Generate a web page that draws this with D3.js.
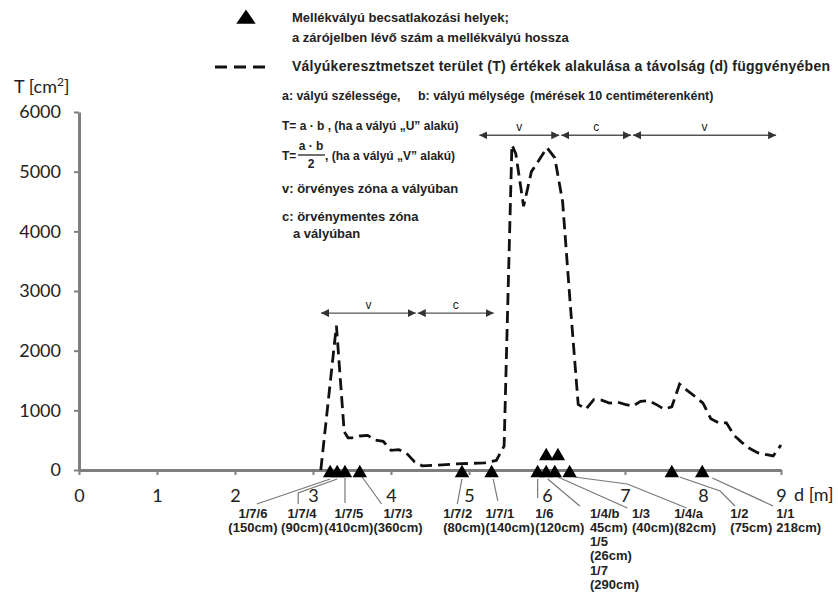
<!DOCTYPE html>
<html>
<head>
<meta charset="utf-8">
<script src="https://cdn.jsdelivr.net/npm/d3@7"></script>
<style>
body { margin: 0; background: #fff; }
svg { display: block; }
text { font-family: "Liberation Sans", Arial, sans-serif; fill: #222; }
.tick text { font-family: Lato, "Open Sans", sans-serif; }
</style>
</head>
<body>
<svg id="chart" width="838" height="594"></svg>
<script>
// cross-section area T [cm2] along the trough, d [m]
var distances = [3.1, 3.3, 3.4, 3.45, 3.5, 3.6, 3.7, 3.8, 3.9, 4.0, 4.1, 4.2, 4.3, 4.4, 4.6, 4.8, 5.0, 5.2, 5.35, 5.45,
    5.55, 5.6, 5.7, 5.8, 5.9, 6.0, 6.1, 6.2, 6.3, 6.4, 6.5, 6.6, 6.7, 6.8, 6.9, 7.0, 7.1, 7.2, 7.3, 7.4,
    7.5, 7.6, 7.7, 7.8, 7.9, 8.0, 8.1, 8.2, 8.3, 8.4, 8.5, 8.6, 8.7, 8.8, 8.9, 9.0];
var areas = [0, 2420, 640, 540, 540, 570, 580, 500, 480, 330, 340, 280, 140, 70, 80, 100, 110, 120, 160, 400,
    5450, 5300, 4420, 5000, 5200, 5400, 5230, 4500, 2750, 1100, 1020, 1180, 1170, 1120, 1140, 1100, 1070, 1150, 1160, 1100,
    1020, 1060, 1440, 1330, 1230, 1120, 860, 790, 790, 580, 460, 360, 290, 260, 235, 420];

var xTicks = [0, 1, 2, 3, 4, 5, 6, 7, 8, 9];
var yTicks = [0, 1000, 2000, 3000, 4000, 5000, 6000];

// side-trough inlets: position and stacking level
var inletD = [3.22, 3.31, 3.41, 3.60, 4.91, 5.29, 5.88, 5.99, 6.10, 6.29, 7.60, 7.99, 5.99, 6.14];
var inletLevel = [0, 0, 0, 0, 0, 0, 0, 0, 0, 0, 0, 0, 1, 1];

// zones: v = örvényes, c = örvénymentes
var zoneFrom = [3.09, 4.33, 5.12, 6.17, 7.09];
var zoneTo = [4.33, 5.33, 6.17, 7.09, 8.95];
var zoneName = ["v", "c", "v", "c", "v"];
var zoneT = [2630, 2630, 5610, 5610, 5610];

// inlet labels; leader = [d, px below axis] points
var inletLabels = [
    { lines: ["1/7/6", "(150cm)"], d: 2.23, anchor: "middle", leader: [[3.22, 9], [2.28, 34]] },
    { lines: ["1/7/4", "(90cm)"], d: 2.86, anchor: "middle", leader: [[3.31, 9], [2.81, 23], [2.81, 34]] },
    { lines: ["1/7/5", "(410cm)"], d: 3.46, anchor: "middle", leader: [[3.41, 8], [3.41, 33]] },
    { lines: ["1/7/3", "(360cm)"], d: 4.09, anchor: "middle", leader: [[3.63, 7], [3.88, 34]] },
    { lines: ["1/7/2", "(80cm)"], d: 4.67, anchor: "start", leader: [[4.91, 9], [4.85, 34]] },
    { lines: ["1/7/1", "(140cm)"], d: 5.21, anchor: "start", leader: [[5.31, 9], [5.37, 31]] },
    { lines: ["1/6", "(120cm)"], d: 5.85, anchor: "start", leader: [[5.88, 9], [5.88, 28]] },
    { lines: ["1/4/b", "45cm)", "1/5", "(26cm)", "1/7", "(290cm)"], d: 6.55, anchor: "start", leader: [[6.01, 9], [6.42, 36]] },
    { lines: ["1/3", "(40cm)"], d: 7.09, anchor: "start", leader: [[6.14, 7], [7.03, 38]] },
    { lines: ["1/4/a", "(82cm)"], d: 7.63, anchor: "start", leader: [[6.35, 7], [7.03, 14], [7.79, 38]] },
    { lines: ["1/2", "(75cm)"], d: 8.35, anchor: "start", leader: [[7.70, 7], [8.22, 21], [8.41, 36]] },
    { lines: ["1/1", "218cm)"], d: 8.94, anchor: "start", leader: [[8.12, 8], [8.90, 36]] }
];

var svg = d3.select("#chart");
var x = d3.scaleLinear().domain([0, 9]).range([79, 781]);
var y = d3.scaleLinear().domain([0, 6000]).range([470, 112]);
var axisColor = "#7f7f7f";

// axes
var gx = svg.append("g").attr("transform", "translate(0," + y(0) + ")")
    .call(d3.axisBottom(x).tickValues(xTicks).tickSize(5).tickSizeOuter(0).tickPadding(14));
var gy = svg.append("g").attr("transform", "translate(" + x(0) + ",0)")
    .call(d3.axisLeft(y).tickValues(yTicks).tickFormat(d3.format("d")).tickSize(5).tickSizeOuter(0).tickPadding(13));
[gx, gy].forEach(function (g) {
    g.select(".domain").attr("stroke", axisColor).attr("stroke-width", 3);
    g.selectAll(".tick line").attr("stroke", axisColor).attr("stroke-width", 2);
    g.selectAll(".tick text").attr("font-size", 18).attr("fill", "#222");
});
gx.append("text")
    .attr("x", x(9) + 13).attr("y", 31)
    .attr("font-size", 18).attr("text-anchor", "start")
    .style("font-family", "Lato, 'Open Sans', sans-serif")
    .text("d [m]");

var yTitle = svg.append("text").attr("x", 14).attr("y", 93)
    .attr("font-size", 18).style("font-family", "Lato, 'Open Sans', sans-serif");
yTitle.append("tspan").text("T [cm");
yTitle.append("tspan").attr("font-size", 12).attr("dy", -7).text("2");
yTitle.append("tspan").attr("dy", 7).text("]");

// zone arrows
svg.append("defs").append("marker")
    .attr("id", "head").attr("viewBox", "0 0 10 10")
    .attr("refX", 10).attr("refY", 5)
    .attr("markerWidth", 8).attr("markerHeight", 8)
    .attr("markerUnits", "userSpaceOnUse")
    .attr("orient", "auto-start-reverse")
  .append("path").attr("d", "M0,0L10,5L0,10Z").attr("fill", "#333");

var zones = svg.append("g");
zoneName.forEach(function (name, i) {
    zones.append("line")
        .attr("x1", x(zoneFrom[i]) + 1).attr("x2", x(zoneTo[i]) - 1)
        .attr("y1", y(zoneT[i])).attr("y2", y(zoneT[i]))
        .attr("stroke", "#555").attr("stroke-width", 1.3)
        .attr("marker-start", "url(#head)").attr("marker-end", "url(#head)");
    zones.append("text")
        .attr("x", (x(zoneFrom[i]) + x(zoneTo[i])) / 2).attr("y", y(zoneT[i]) - 4)
        .attr("text-anchor", "middle").attr("font-size", 12).attr("fill", "#444")
        .text(name);
});

// area line
var line = d3.line().x(function (d) { return x(d[0]); }).y(function (d) { return y(d[1]); });
svg.append("path")
    .datum(d3.zip(distances, areas))
    .attr("d", line)
    .attr("fill", "none").attr("stroke", "#111")
    .attr("stroke-width", 2.8).attr("stroke-dasharray", "12,6");

// leader lines and labels
var labels = svg.append("g");
inletLabels.forEach(function (l) {
    labels.append("polyline")
        .attr("points", l.leader.map(function (p) { return x(p[0]) + "," + (y(0) + p[1]); }).join(" "))
        .attr("fill", "none").attr("stroke", "#777").attr("stroke-width", 1.2);
    var t = labels.append("text")
        .attr("x", x(l.d)).attr("y", y(0) + 47.5)
        .attr("text-anchor", l.anchor).attr("font-size", 13).attr("font-weight", "bold");
    l.lines.forEach(function (s, j) {
        t.append("tspan").attr("x", x(l.d)).attr("dy", j ? 14.3 : 0).text(s);
    });
});

// inlet triangles
var tri = d3.symbol().type(d3.symbolTriangle).size(90);
svg.append("g").selectAll("path")
    .data(d3.zip(inletD, inletLevel))
    .join("path")
    .attr("d", tri)
    .attr("transform", function (d) { return "translate(" + x(d[0]) + "," + (y(0) + 3 - d[1] * 17) + ")"; })
    .attr("fill", "#000");

// legend and notes
var legend = svg.append("g").attr("font-weight", "bold").attr("font-size", 13);
legend.append("path").attr("d", tri).attr("transform", "translate(246,19) scale(1.35,1.15)").attr("fill", "#000");
legend.append("text").attr("x", 292).attr("y", 22).text("Mellékvályú becsatlakozási helyek;");
legend.append("text").attr("x", 292).attr("y", 42).text("a zárójelben lévő szám a mellékvályú hossza");
legend.append("line").attr("x1", 215).attr("x2", 266).attr("y1", 67).attr("y2", 67)
    .attr("stroke", "#111").attr("stroke-width", 2.8).attr("stroke-dasharray", "12,7");
legend.append("text").attr("x", 292).attr("y", 71).attr("font-size", 14).attr("letter-spacing", 0.25)
    .text("Vályúkeresztmetszet terület (T) értékek alakulása a távolság (d) függvényében");
legend.append("text").attr("x", 282).attr("y", 100).attr("font-size", 12.4).text("a: vályú szélessége,");
legend.append("text").attr("x", 418).attr("y", 100).attr("font-size", 12.4).text("b: vályú mélysége");
legend.append("text").attr("x", 530).attr("y", 100).attr("font-size", 12.5).text("(mérések 10 centiméterenként)");
legend.append("text").attr("x", 282).attr("y", 130).attr("font-size", 12).text("T= a · b , (ha a vályú „U” alakú)");
legend.append("text").attr("x", 282).attr("y", 160).attr("font-size", 12).text("T=");
legend.append("text").attr("x", 311).attr("y", 150).attr("font-size", 12).attr("text-anchor", "middle").text("a · b");
legend.append("line").attr("x1", 298).attr("x2", 325).attr("y1", 155).attr("y2", 155)
    .attr("stroke", "#222").attr("stroke-width", 1.3);
legend.append("text").attr("x", 311).attr("y", 168).attr("font-size", 12).attr("text-anchor", "middle").text("2");
legend.append("text").attr("x", 325).attr("y", 160).attr("font-size", 12).text(", (ha a vályú „V” alakú)");
legend.append("text").attr("x", 282).attr("y", 193).text("v: örvényes zóna a vályúban");
legend.append("text").attr("x", 282).attr("y", 221).text("c: örvénymentes zóna");
legend.append("text").attr("x", 293).attr("y", 238).text("a vályúban");
</script>
</body>
</html>
